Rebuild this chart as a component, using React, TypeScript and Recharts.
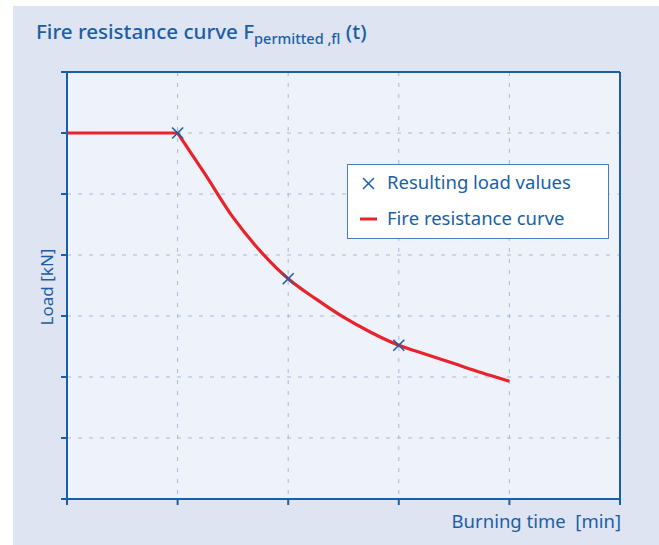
import React from 'react'
import {
  ComposedChart, Line, Scatter, XAxis, YAxis, CartesianGrid
} from 'recharts'

const xTicks = [0, 1, 2, 3, 4, 5]
const yTicks = [0, 1, 2, 3, 4, 5, 6, 7]

// flat part of the curve, before the first load value
const flatPart = [
  { t: 0, load: 6 },
  { t: 1, load: 6 },
]

// decaying part
const curveT    = [1, 1.25, 1.5, 1.75, 2, 2.25, 2.5, 2.75, 3, 3.25, 3.5, 3.75, 4]
const curveLoad = [6, 5.32, 4.62, 4.06, 3.61, 3.28, 2.98, 2.73, 2.52, 2.37, 2.22, 2.07, 1.93]

const resultT    = [1, 2, 3]
const resultLoad = [6, 3.61, 2.52]

const BLUE = '#1a5fa6'
const RED = '#e8232b'
const FONT = '"Noto Sans", "Open Sans", sans-serif'

const curve = curveT.map((t, i) => ({ t, load: curveLoad[i] }))
const results = resultT.map((t, i) => ({ t, load: resultLoad[i] }))

const NoTick = () => null

const Cross = (p: any) => {
  const { cx, cy } = p
  if (cx == null || cy == null) return null
  const s = 5.5
  return (
    <g stroke={BLUE} strokeWidth={1.6}>
      <line x1={cx - s} y1={cy - s} x2={cx + s} y2={cy + s} />
      <line x1={cx - s} y1={cy + s} x2={cx + s} y2={cy - s} />
    </g>
  )
}

const LegendBox = () => (
  <div style={{
    position: 'absolute', left: 334, top: 158, width: 260, height: 73,
    background: '#fff', border: '1px solid #4a7bbb',
    fontFamily: FONT, fontSize: 18.5, color: BLUE
  }}>
    <svg width={30} height={73} style={{ position: 'absolute', left: 0, top: 0 }}>
      <line x1={15} y1={13} x2={26} y2={24} stroke={BLUE} strokeWidth={1.5} />
      <line x1={15} y1={24} x2={26} y2={13} stroke={BLUE} strokeWidth={1.5} />
      <line x1={12} y1={54} x2={29} y2={54} stroke={RED} strokeWidth={3} />
    </svg>
    <div style={{ position: 'absolute', left: 39, top: 4, whiteSpace: 'nowrap' }}>Resulting load values</div>
    <div style={{ position: 'absolute', left: 39, top: 40, whiteSpace: 'nowrap' }}>Fire resistance curve</div>
  </div>
)

export default function App() {
  return (
    <div style={{ position: 'absolute', left: 13, top: 6, width: 646, height: 539, background: '#dee4f1' }}>
      <div style={{
        position: 'absolute', left: 23, top: 11, fontFamily: FONT, fontSize: 20.6,
        color: BLUE, fontWeight: 500, whiteSpace: 'nowrap'
      }}>
        Fire resistance curve F<sub style={{ fontSize: 14.5 }}>permitted ,fl</sub> (t)
      </div>
      <ComposedChart width={646} height={539} margin={{ top: 65, right: 38, bottom: 45, left: 53 }}>
        <CartesianGrid fill="#eef2fa" stroke="#a9b9da" strokeDasharray="4 7" />
        <XAxis
          type="number" dataKey="t" domain={[0, 5]} ticks={xTicks} height={1}
          tick={<NoTick />} tickSize={6} stroke={BLUE} strokeWidth={2}
        />
        <XAxis xAxisId="top" orientation="top" type="number" domain={[0, 5]} height={1}
          tick={<NoTick />} tickLine={false} stroke={BLUE} strokeWidth={2} />
        <YAxis
          type="number" domain={[0, 7]} ticks={yTicks} width={1}
          tick={<NoTick />} tickSize={6} stroke={BLUE} strokeWidth={2}
        />
        <YAxis yAxisId="right" orientation="right" type="number" domain={[0, 7]} width={1}
          tick={<NoTick />} tickLine={false} stroke={BLUE} strokeWidth={2} />
        <Line data={flatPart} dataKey="load" type="linear" stroke={RED} strokeWidth={3.2}
          dot={false} isAnimationActive={false} />
        <Line data={curve} dataKey="load" type="monotone" stroke={RED} strokeWidth={3.2}
          dot={false} isAnimationActive={false} />
        <Scatter data={results} dataKey="load" shape={<Cross />} isAnimationActive={false} />
      </ComposedChart>
      <LegendBox />
      <div style={{
        position: 'absolute', left: 33, top: 281, transform: 'translate(-50%, -50%) rotate(-90deg)',
        fontFamily: FONT, fontSize: 17, color: BLUE, whiteSpace: 'nowrap'
      }}>
        Load [kN]
      </div>
      <div style={{
        position: 'absolute', right: 38, top: 502, fontFamily: FONT, fontSize: 18.5,
        color: BLUE, whiteSpace: 'pre'
      }}>
        Burning time  [min]
      </div>
    </div>
  )
}
